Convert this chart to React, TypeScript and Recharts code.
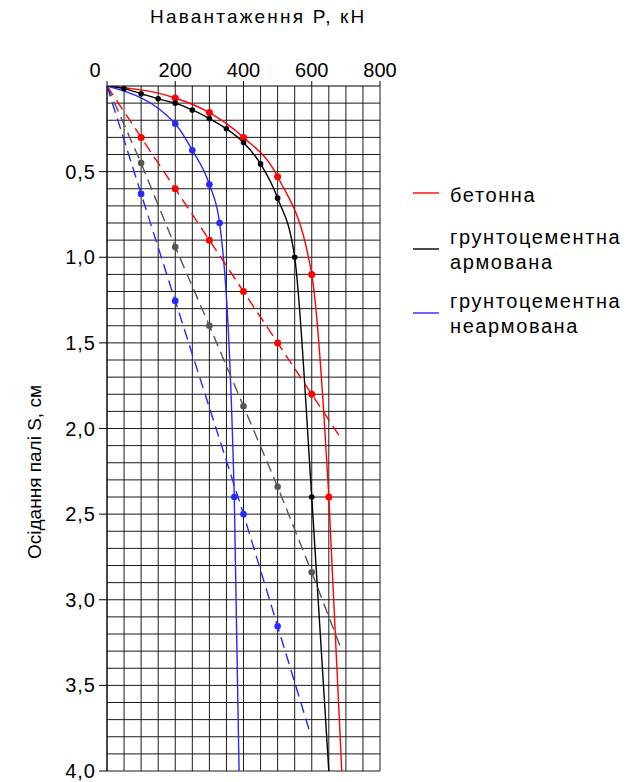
// Осідання палі vs навантаження — 3 суцільні криві (дослід) + 3 штрихові (розрахунок).
import { LineChart, Line, XAxis, YAxis, ReferenceLine } from 'recharts';

const FONT = '"Liberation Sans", Arial, sans-serif';

// бетонна (суцільна)
const redLoad = [0, 200, 300, 400, 500, 600, 650, 688];
const redSettle = [0, 0.07, 0.155, 0.3, 0.53, 1.1, 2.4, 4.0];
// грунтоцементна армована (суцільна)
const blackLoad = [0, 50, 100, 150, 200, 250, 300, 350, 400, 450, 500, 550, 600, 650];
const blackSettle = [0, 0.015, 0.045, 0.075, 0.1, 0.14, 0.19, 0.25, 0.33, 0.455, 0.655, 1.0, 2.4, 4.0];
// грунтоцементна неармована (суцільна)
const blueLoad = [0, 200, 250, 300, 330, 373, 387];
const blueSettle = [0, 0.22, 0.375, 0.575, 0.8, 2.4, 4.0];

// штрихові лінії
const redDashLoad = [0, 100, 200, 300, 400, 500, 600, 680];
const redDashSettle = [0, 0.3, 0.6, 0.9, 1.2, 1.5, 1.8, 2.04];
const grayDashLoad = [0, 100, 200, 300, 400, 500, 600, 683];
const grayDashSettle = [0, 0.45, 0.94, 1.4, 1.87, 2.34, 2.84, 3.27];
const blueDashLoad = [0, 100, 200, 400, 500, 597];
const blueDashSettle = [0, 0.63, 1.255, 2.5, 3.155, 3.79];

const xTicks = [0, 200, 400, 600, 800];
const yTicks = [0.5, 1.0, 1.5, 2.0, 2.5, 3.0, 3.5, 4.0];

// перша і остання точка — без маркера
const toSeries = (p: number[], s: number[]) =>
  p.map((v, i) => ({ p: v, s: s[i], m: i > 0 && i < p.length - 1 }));

// сітка: 50 кН x 0,1 см
const gridX = Array.from({ length: 17 }, (_, i) => i * 50);
const gridY = Array.from({ length: 40 }, (_, i) => +((i + 1) * 0.1).toFixed(1));

function dotFor(color: string, r: number) {
  return (props: any) => {
    const { cx, cy, payload, index } = props;
    if (!payload?.m) return <g key={index} />;
    return <circle key={index} cx={cx} cy={cy} r={r} fill={color} stroke="none" />;
  };
}

function XTick(props: any) {
  const { x, y, payload } = props;
  const dx = payload.value === 0 ? -12 : 0;
  return (
    <text x={x + dx} y={y} textAnchor="middle" fontSize={20} fontFamily={FONT} fill="#000">
      {payload.value}
    </text>
  );
}

const legend = [
  { color: '#ff0000', lines: ['бетонна'], textY: 195, lineY: 193 },
  { color: '#000000', lines: ['грунтоцементна', 'армована'], textY: 237, lineY: 249 },
  { color: '#2828ff', lines: ['грунтоцементна', 'неармована'], textY: 301, lineY: 313 },
];

export default function App() {
  const series = [
    { data: toSeries(redLoad, redSettle), color: '#ff0000', dash: undefined, r: 3.5, type: 'monotone' },
    { data: toSeries(blackLoad, blackSettle), color: '#000000', dash: undefined, r: 2.8, type: 'monotone' },
    { data: toSeries(blueLoad, blueSettle), color: '#2828ff', dash: undefined, r: 3.3, type: 'monotone' },
    { data: toSeries(redDashLoad, redDashSettle), color: '#ff0000', dash: '11 6', r: 3.5, type: 'linear' },
    { data: toSeries(grayDashLoad, grayDashSettle), color: '#555555', dash: '11 6', r: 3.3, type: 'linear' },
    { data: toSeries(blueDashLoad, blueDashSettle), color: '#2828ff', dash: '11 6', r: 3.3, type: 'linear' },
  ];

  return (
    <div style={{ position: 'absolute', left: 0, top: 0, width: 627, height: 782, background: '#fff', fontFamily: FONT }}>
      <LineChart width={627} height={782} margin={{ top: 46, right: 247, bottom: 11, left: 7 }}>
        <XAxis
          type="number"
          dataKey="p"
          orientation="top"
          domain={[0, 800]}
          ticks={xTicks}
          height={40}
          tickSize={5}
          tickMargin={4}
          tick={<XTick />}
          stroke="#000"
          allowDataOverflow
        />
        <YAxis
          type="number"
          dataKey="s"
          reversed
          domain={[0, 4]}
          ticks={yTicks}
          width={100}
          tickSize={8}
          tickMargin={3}
          tickFormatter={(v: number) => v.toFixed(1).replace('.', ',')}
          tick={{ fontSize: 20, fontFamily: FONT, fill: '#000', letterSpacing: 1 }}
          stroke="#000"
          allowDataOverflow
        />
        {gridX.map((v) => (
          <ReferenceLine key={'gx' + v} x={v} stroke="#1a1a1a" strokeWidth={1} />
        ))}
        {gridY.map((v) => (
          <ReferenceLine key={'gy' + v} y={v} stroke="#1a1a1a" strokeWidth={1} />
        ))}
        {series.map((s, i) => (
          <Line
            key={i}
            data={s.data}
            dataKey="s"
            type={s.type as any}
            stroke={s.color}
            strokeWidth={1.4}
            strokeDasharray={s.dash}
            dot={dotFor(s.color, s.r)}
            activeDot={false}
            isAnimationActive={false}
          />
        ))}
      </LineChart>

      <div style={{ position: 'absolute', left: 150, top: 6, fontSize: 19, letterSpacing: 2.2, whiteSpace: 'nowrap', color: '#000' }}>
        Навантаження P, кН
      </div>
      <div
        style={{
          position: 'absolute',
          left: 35,
          top: 472,
          transform: 'translate(-50%, -50%) rotate(-90deg)',
          fontSize: 19,
          whiteSpace: 'nowrap',
          color: '#000',
        }}
      >
        Осідання палі S, см
      </div>

      <svg style={{ position: 'absolute', left: 0, top: 0 }} width={627} height={782} pointerEvents="none">
        {legend.map((l, i) => (
          <g key={i}>
            <line x1={413} x2={439} y1={l.lineY} y2={l.lineY} stroke={l.color} strokeWidth={1.4} />
            {l.lines.map((t, j) => (
              <text
                key={j}
                x={450}
                y={l.textY + j * 25}
                dy="0.35em"
                fontSize={20}
                letterSpacing={1.6}
                fontFamily={FONT}
                fill="#000"
              >
                {t}
              </text>
            ))}
          </g>
        ))}
      </svg>
    </div>
  );
}
